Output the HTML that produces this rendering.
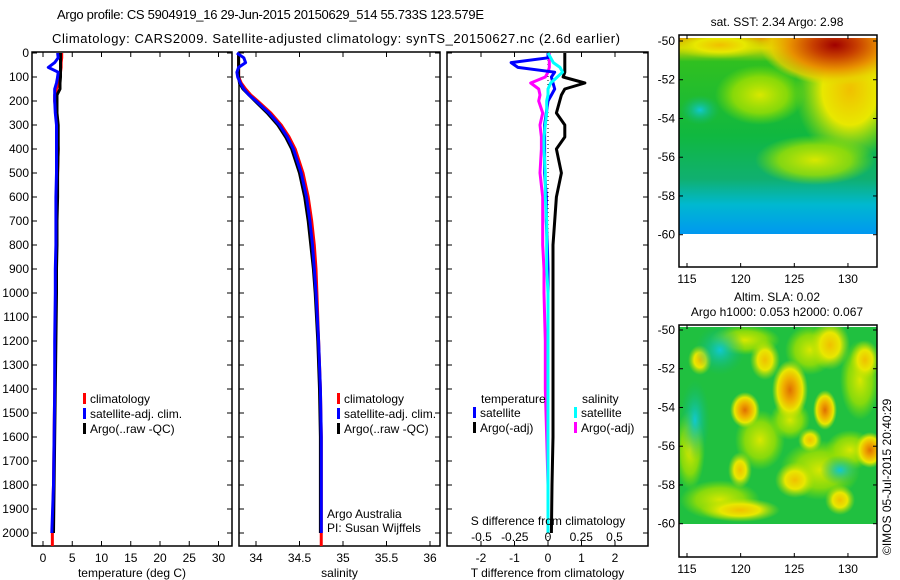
<!DOCTYPE html>
<html><head><meta charset="utf-8">
<style>
body{margin:0;background:#fff;}
svg{display:block;font-family:"Liberation Sans",sans-serif;}
text{font-size:12px;fill:#000;}
</style></head>
<body>
<svg id="c" width="900" height="580" viewBox="0 0 900 580" xmlns="http://www.w3.org/2000/svg">
<defs>
<clipPath id="clipA"><rect x="679" y="38" width="198" height="196"/></clipPath>
<clipPath id="clipB"><rect x="679" y="327" width="198" height="197"/></clipPath>
<linearGradient id="sstg" x1="0" y1="0" x2="0" y2="1">
<stop offset="0" stop-color="#e89000"/><stop offset="0.05" stop-color="#e0d800"/><stop offset="0.12" stop-color="#30c020"/>
<stop offset="0.5" stop-color="#10b840"/><stop offset="0.72" stop-color="#10b070"/><stop offset="0.85" stop-color="#00b8d0"/><stop offset="1" stop-color="#0098f0"/>
</linearGradient>
<radialGradient id="hot"><stop offset="0" stop-color="#a00000"/><stop offset="0.3" stop-color="#c84000"/><stop offset="0.6" stop-color="#e89000"/><stop offset="0.85" stop-color="#e8d000" stop-opacity="0.8"/><stop offset="1" stop-color="#e0e000" stop-opacity="0"/></radialGradient>
<radialGradient id="yel"><stop offset="0" stop-color="#f0c000"/><stop offset="0.5" stop-color="#e8e800"/><stop offset="1" stop-color="#b0e000" stop-opacity="0"/></radialGradient>
<radialGradient id="lyel"><stop offset="0" stop-color="#d8e800"/><stop offset="0.6" stop-color="#a0e000" stop-opacity="0.8"/><stop offset="1" stop-color="#80e000" stop-opacity="0"/></radialGradient>
<radialGradient id="org"><stop offset="0" stop-color="#e07000"/><stop offset="0.4" stop-color="#f0b000"/><stop offset="0.7" stop-color="#e8e800"/><stop offset="1" stop-color="#c0e000" stop-opacity="0"/></radialGradient>
<radialGradient id="cy"><stop offset="0" stop-color="#10c8d0"/><stop offset="1" stop-color="#10b870" stop-opacity="0"/></radialGradient>
</defs>
<g id="root"></g>
</svg>
<script>
// ---- data ----
const depths = [0,20,40,60,80,100,125,150,175,200,250,300,350,400,500,600,700,800,900,1000,1200,1400,1600,1800,2000];
const tempClim = [3.2,3.2,3.1,3.1,3.0,2.9,2.6,2.3,2.0,2.0,2.2,2.4,2.5,2.6,2.5,2.4,2.3,2.3,2.2,2.2,2.1,2.0,1.9,1.8,1.6];
const tempSat = [2.5,2.6,2.0,0.9,2.6,2.5,2.3,2.0,2.0,2.0,2.1,2.3,2.3,2.3,2.3,2.2,2.2,2.2,2.1,2.1,2.0,2.0,1.9,1.8,1.5];
const tempArgo = [3.0,3.0,3.0,3.0,3.0,3.0,2.9,2.9,2.4,2.4,2.4,2.6,2.6,2.6,2.5,2.5,2.4,2.4,2.3,2.3,2.2,2.1,2.0,1.9,1.8];
const salClim = [33.80,33.80,33.80,33.80,33.80,33.80,33.83,33.88,33.94,34.02,34.17,34.29,34.38,34.45,34.54,34.60,34.64,34.67,34.69,34.70,34.72,34.74,34.75,34.75,34.75];
const salSat = [33.78,33.86,33.88,33.80,33.78,33.79,33.82,33.86,33.92,34.00,34.15,34.27,34.36,34.43,34.52,34.58,34.62,34.65,34.67,34.69,34.72,34.74,34.75,34.75,34.75];
const salArgo = [33.80,33.80,33.80,33.80,33.80,33.80,33.81,33.85,33.92,33.99,34.13,34.25,34.34,34.41,34.50,34.56,34.60,34.63,34.66,34.68,34.71,34.73,34.74,34.74,34.74];
const dTsat = [0.0,0.0,-1.1,-0.9,0.2,0.1,0.15,0.2,0.1,0.0,-0.05,-0.1,-0.1,-0.1,-0.1,-0.05,-0.05,-0.02,0.0,0.0,0.0,0.0,0.0,0.0,0.0];
const dTargo = [0.5,0.5,0.5,0.5,0.5,0.45,1.1,0.5,0.4,0.35,0.25,0.5,0.5,0.25,0.4,0.25,0.2,0.15,0.15,0.15,0.15,0.15,0.15,0.12,0.1];
const dSsat = [0.0,0.02,0.04,0.09,0.11,0.07,0.02,0.0,0.0,-0.01,-0.01,-0.02,-0.03,-0.03,-0.02,-0.02,-0.01,-0.01,-0.01,0.0,0.0,0.0,0.0,0.0,0.0];
const dSargo = [0.01,0.01,0.01,0.01,0.0,-0.02,-0.13,-0.07,-0.06,-0.07,-0.04,-0.06,-0.05,-0.05,-0.06,-0.04,-0.04,-0.04,-0.03,-0.03,-0.02,-0.02,-0.01,0.0,0.0];
const depthTicks = [0,100,200,300,400,500,600,700,800,900,1000,1100,1200,1300,1400,1500,1600,1700,1800,1900,2000];
const tempTicks = [0,5,10,15,20,25,30];
const salTicks = [34,34.5,35,35.5,36];
const dTTicks = [-2,-1,0,1,2];
const dSTicks = [-0.5,-0.25,0,0.25,0.5];
const dSLabels = ["-0.5","-0.25","0","0.25","0.5"];
const latTicks = [-50,-52,-54,-56,-58,-60];
const lonTicks = [115,120,125,130];

const NS="http://www.w3.org/2000/svg";
const root=document.getElementById('root');
function el(tag,attrs,parent){const e=document.createElementNS(NS,tag);for(const k in attrs)e.setAttribute(k,attrs[k]);(parent||root).appendChild(e);return e;}
function txt(x,y,s,anchor,parent,size){const t=el('text',{x:x,y:y,'text-anchor':anchor||'start'},parent);if(size)t.style.fontSize=size+'px';t.textContent=s;return t;}

const Y=d=>53+d*0.24;
const TOP=52,BOT=546;
const xT=v=>43+v*5.85;
const xS=v=>256+(v-34)*87;
const xD=v=>548+v*33.5;
const xDS=v=>548+v*133;

let t=txt(57,19,"Argo profile: CS 5904919_16 29-Jun-2015 20150629_514 55.733S 123.579E");t.setAttribute('textLength','427');t.style.fontSize='13px';

t=txt(52,43,"Climatology: CARS2009. Satellite-adjusted climatology: synTS_20150627.nc (2.6d earlier)");t.setAttribute('textLength','568');t.style.fontSize='13px';


function panel(name,x0,x1,xs,ticks,labels,xlabel,leftLabels){
  const g=el('g',{});
  
  
  const r=el('rect',{x:x0,y:TOP,width:x1-x0,height:BOT-TOP,fill:'none',stroke:'#000','stroke-width':1.5},g);
  
  depthTicks.forEach(d=>{
    el('line',{x1:x0,x2:x0+5,y1:Y(d),y2:Y(d),stroke:'#000'},g);
    el('line',{x1:x1-5,x2:x1,y1:Y(d),y2:Y(d),stroke:'#000'},g);
    if(leftLabels){const tl=txt(x0-3,Y(d)+4,String(d),'end',g);}
  });
  if(ticks){ticks.forEach((v,i)=>{
    el('line',{x1:xs(v),x2:xs(v),y1:BOT,y2:BOT-5,stroke:'#000'},g);
    el('line',{x1:xs(v),x2:xs(v),y1:TOP,y2:TOP+5,stroke:'#000'},g);
    const tl=txt(xs(v),562,labels[i],'middle',g);
  });}
  const xl=txt((x0+x1)/2,577,xlabel,'middle',g);
  return g;
}
function line(g,vals,xs,color,name,maxD){
  const pts=[];depths.forEach((d,i)=>{if(d<=maxD)pts.push(xs(vals[i]).toFixed(1)+','+Y(d).toFixed(1));});
  const p=el('polyline',{points:pts.join(' '),fill:'none',stroke:color,'stroke-width':3,'stroke-linejoin':'round'},g);
  return p;
}
function ext(g,v,xs,color,name){
  const p=el('line',{x1:xs(v),x2:xs(v),y1:Y(2000),y2:BOT,stroke:color,'stroke-width':3},g);
  
}
function legend(g,x,y,items){
  items.forEach((it,i)=>{
    const m=el('rect',{x:x,y:y+i*15-10,width:3,height:11,fill:it[0]},g);
    
    const tl=txt(x+7,y+i*15,it[1],'start',g);
  });
}

let g1=panel('temperature-panel',32,232,xT,tempTicks,tempTicks.map(String),'temperature (deg C)',true);
line(g1,tempClim,xT,'#f00','temp-climatology-line',2000);ext(g1,tempClim[tempClim.length-1],xT,'#f00','temp-clim-extension');
line(g1,tempArgo,xT,'#000','temp-argo-line',2000);
line(g1,tempSat,xT,'#00f','temp-satellite-line',2000);
legend(g1,83,403,[['#f00','climatology'],['#00f','satellite-adj. clim.'],['#000','Argo(..raw -QC)']]);

let g2=panel('salinity-panel',239,440,xS,salTicks,salTicks.map(String),'salinity',false);
line(g2,salClim,xS,'#f00','sal-climatology-line',2000);ext(g2,salClim[salClim.length-1],xS,'#f00','sal-clim-extension');
line(g2,salArgo,xS,'#000','sal-argo-line',2000);
line(g2,salSat,xS,'#00f','sal-satellite-line',2000);
legend(g2,337,403,[['#f00','climatology'],['#00f','satellite-adj. clim.'],['#000','Argo(..raw -QC)']]);
t=txt(327,518,'Argo Australia','start',g2);
t=txt(327,532,'PI: Susan Wijffels','start',g2);

let g3=panel('difference-panel',447,648,xD,dTTicks,dTTicks.map(String),'T difference from climatology',false);
const zl=el('line',{x1:xD(0),x2:xD(0),y1:TOP,y2:BOT,stroke:'#000','stroke-dasharray':'1,3'},g3);

line(g3,dTargo,xD,'#000','t-diff-argo-line',2000);
line(g3,dSargo,xDS,'#f0f','s-diff-argo-line',2000);
line(g3,dTsat,xD,'#00f','t-diff-satellite-line',2000);
line(g3,dSsat,xDS,'#0ff','s-diff-satellite-line',2000);
dSTicks.forEach((v,i)=>{const tl=txt(xDS(v),541,dSLabels[i],'middle',g3);});
t=txt(548,525,'S difference from climatology','middle',g3);
t=txt(481,403,'temperature','start',g3);
t=txt(582,403,'salinity','start',g3);
legend(g3,473,417,[['#00f','satellite'],['#000','Argo(-adj)']]);
legend(g3,574,417,[['#0ff','satellite'],['#f0f','Argo(-adj)']]);

const mx=lon=>687+(lon-115)*10.73;
function map(name,y0,y1,latY,title,clip,fill){
  const g=el('g',{});
  
  
  const fg=el('g',{'clip-path':'url(#'+clip+')'},g);
  fill(fg);
  const r=el('rect',{x:679,y:y0,width:198,height:y1-y0,fill:'none',stroke:'#000','stroke-width':1.5},g);
  
  latTicks.forEach(l=>{const y=latY(l);
    el('line',{x1:679,x2:683,y1:y,y2:y,stroke:'#000'},g);el('line',{x1:873,x2:877,y1:y,y2:y,stroke:'#000'},g);
    const tl=txt(675,y+4,String(l),'end',g);});
  lonTicks.forEach(l=>{const x=mx(l);
    el('line',{x1:x,x2:x,y1:y0,y2:y0+4,stroke:'#000'},g);el('line',{x1:x,x2:x,y1:y1-4,y2:y1,stroke:'#000'},g);
    const tl=txt(x,y1+16,String(l),'middle',g);});
  title.forEach((s,i)=>{const tl=txt(777,y0-19+i*15-(title.length-1)*15+10,s,'middle',g);});
}
map('sst-map',35,267,l=>41+(-50-l)*19.37,['sat. SST: 2.34 Argo: 2.98'],'clipA',g=>{
  el('rect',{x:679,y:38,width:198,height:196,fill:'url(#sstg)'},g);
  el('ellipse',{cx:850,cy:90,rx:55,ry:70,fill:'url(#yel)'},g);
  el('ellipse',{cx:760,cy:95,rx:45,ry:30,fill:'url(#lyel)'},g);
  el('ellipse',{cx:720,cy:45,rx:50,ry:14,fill:'url(#yel)'},g);
  el('ellipse',{cx:835,cy:45,rx:75,ry:40,fill:'url(#hot)'},g);
  el('ellipse',{cx:815,cy:160,rx:60,ry:25,fill:'url(#lyel)'},g);
  el('ellipse',{cx:700,cy:110,rx:20,ry:15,fill:'url(#cy)'},g);
});
map('sla-map',325,557,l=>330+(-50-l)*19.37,['Altim. SLA: 0.02','Argo h1000: 0.053 h2000: 0.067'],'clipB',g=>{
  el('rect',{x:679,y:327,width:198,height:197,fill:'#20c040'},g);
  [[745,340,35,15],[810,350,25,25],[860,380,20,40],[760,440,25,30],[820,470,40,30],[720,500,40,20],[690,450,15,40],[850,450,25,20],[790,420,20,20]].forEach(b=>
    el('ellipse',{cx:b[0],cy:b[1],rx:b[2],ry:b[3],fill:'url(#lyel)'},g));
  [[790,390,18,30,'org'],[745,410,15,18,'org'],[825,410,12,20,'org'],[870,450,15,18,'org'],[765,360,15,20,'yel'],[830,345,20,25,'yel'],
   [795,480,20,18,'yel'],[810,440,12,12,'yel'],[840,500,15,15,'yel'],[740,470,12,18,'yel'],[700,360,12,15,'yel'],[865,360,15,20,'yel'],[740,510,40,12,'yel']].forEach(b=>{
    el('ellipse',{cx:b[0],cy:b[1],rx:b[2],ry:b[3],fill:'url(#'+b[4]+')'},g);});
  [[720,350,25,25],[695,420,15,40],[840,470,20,15]].forEach(b=>el('ellipse',{cx:b[0],cy:b[1],rx:b[2],ry:b[3],fill:'url(#cy)'},g));
});
t=el('text',{x:0,y:0,transform:'translate(891,555) rotate(-90)'});t.textContent='©IMOS 05-Jul-2015 20:40:29';

</script>
</body></html>
